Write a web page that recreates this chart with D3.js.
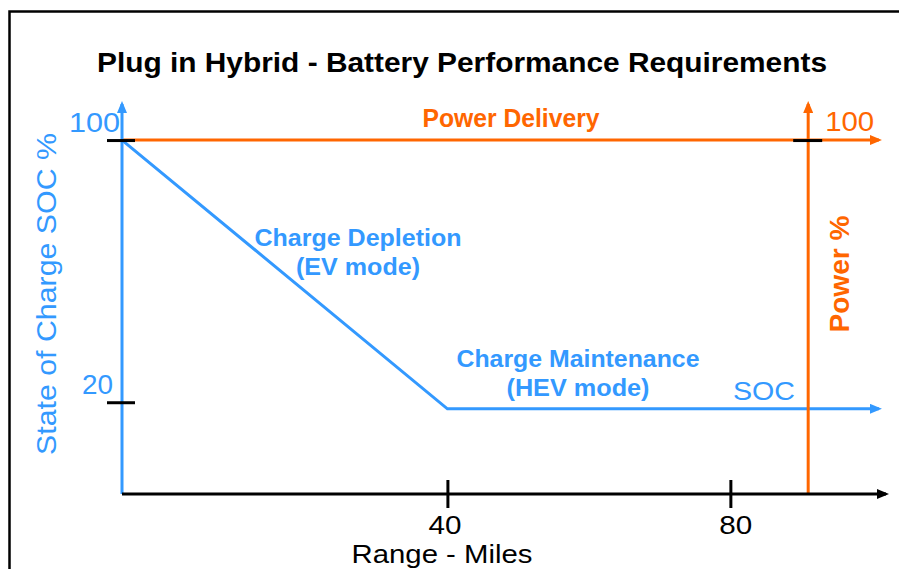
<!DOCTYPE html>
<html>
<head>
<meta charset="utf-8">
<script src="https://cdn.jsdelivr.net/npm/d3@7"></script>
<style>
  body { margin: 0; background: #fff; }
  text { font-family: 'Liberation Sans', Arial, sans-serif; }
</style>
</head>
<body>
<div id="chart"></div>
<script>
// chart values
const socTicks = [20, 100];
const powerTicks = [100];
const rangeTicks = [40, 80];
const socMiles = [-6, 40, 101];
const socValues = [100, 18, 18];
const powerMiles = [-6, 101];
const powerValues = [100, 100];
const axisMiles = [-6, 102];   // x axis start / end
const axisSoc = [-8, 111];     // y axis start / end
const powerAxisMiles = 91;

const blue = '#3399ff',
  orange = '#ff6600';

const width = 899,
  height = 569;

const svg = d3.select('#chart')
  .append('svg')
  .attr('width', width)
  .attr('height', height);

const x = d3.scaleLinear().domain([-6, 102]).range([122, 886]);
const y = d3.scaleLinear().domain([-8, 111]).range([494, 104]);

// arrow heads
const defs = svg.append('defs');
[['blue', blue], ['orange', orange], ['black', '#000']].forEach(function (c) {
  defs.append('marker')
    .attr('id', 'arrow-' + c[0])
    .attr('markerUnits', 'userSpaceOnUse')
    .attr('markerWidth', 12)
    .attr('markerHeight', 10)
    .attr('refX', 9)
    .attr('refY', 5)
    .attr('orient', 'auto')
    .append('path')
    .attr('d', 'M0,0L12,5L0,10Z')
    .attr('fill', c[1]);
});

// frame
svg.append('rect')
  .attr('x', 9.5)
  .attr('y', 11.5)
  .attr('width', 900)
  .attr('height', 570)
  .attr('fill', 'none')
  .attr('stroke', '#000')
  .attr('stroke-width', 2.5);

// title
svg.append('text')
  .attr('x', 462)
  .attr('y', 72)
  .attr('text-anchor', 'middle')
  .attr('font-size', 28)
  .attr('font-weight', 'bold')
  .attr('textLength', 730)
  .attr('lengthAdjust', 'spacingAndGlyphs')
  .text('Plug in Hybrid - Battery Performance Requirements');

const line = d3.line()
  .x(function (d) { return x(d[0]); })
  .y(function (d) { return y(d[1]); });

// power delivery line
svg.append('path')
  .datum(d3.zip(powerMiles, powerValues))
  .attr('d', line)
  .attr('fill', 'none')
  .attr('stroke', orange)
  .attr('stroke-width', 3)
  .attr('marker-end', 'url(#arrow-orange)');

// SOC line
svg.append('path')
  .datum(d3.zip(socMiles, socValues))
  .attr('d', line)
  .attr('fill', 'none')
  .attr('stroke', blue)
  .attr('stroke-width', 3)
  .attr('marker-end', 'url(#arrow-blue)');

// power axis
svg.append('path')
  .datum([[powerAxisMiles, axisSoc[0]], [powerAxisMiles, axisSoc[1]]])
  .attr('d', line)
  .attr('stroke', orange)
  .attr('stroke-width', 3)
  .attr('marker-end', 'url(#arrow-orange)');

// SOC axis
svg.append('path')
  .datum([[axisMiles[0], axisSoc[0]], [axisMiles[0], axisSoc[1]]])
  .attr('d', line)
  .attr('stroke', blue)
  .attr('stroke-width', 3)
  .attr('marker-end', 'url(#arrow-blue)');

// range axis
svg.append('path')
  .datum([[axisMiles[0], axisSoc[0]], [axisMiles[1], axisSoc[0]]])
  .attr('d', line)
  .attr('stroke', '#000')
  .attr('stroke-width', 3)
  .attr('marker-end', 'url(#arrow-black)');

// ticks
const socAxis = svg.append('g')
  .attr('transform', 'translate(' + x(axisMiles[0]) + ',0)')
  .call(d3.axisLeft(y).tickValues(socTicks).tickSize(15));
socAxis.select('.domain').remove();
socAxis.selectAll('line').attr('x1', 13).attr('x2', -15).attr('stroke', '#000').attr('stroke-width', 3);
socAxis.selectAll('text')
  .attr('x', function (d) { return d === 100 ? -2 : -9; })
  .attr('y', -9)
  .attr('dy', 0)
  .attr('fill', blue)
  .attr('font-size', 28)
  .attr('font-family', null)
  .attr('textLength', function (d) { return d === 100 ? 51 : 31; })
  .attr('lengthAdjust', 'spacingAndGlyphs');

const powerAxis = svg.append('g')
  .attr('transform', 'translate(' + x(powerAxisMiles) + ',0)')
  .call(d3.axisRight(y).tickValues(powerTicks).tickSize(14));
powerAxis.select('.domain').remove();
powerAxis.selectAll('line').attr('x1', -15).attr('x2', 14).attr('stroke', '#000').attr('stroke-width', 3);
powerAxis.selectAll('text')
  .attr('x', 17)
  .attr('y', -10)
  .attr('dy', 0)
  .attr('fill', orange)
  .attr('font-size', 28)
  .attr('font-family', null)
  .attr('textLength', 49)
  .attr('lengthAdjust', 'spacingAndGlyphs');

const rangeAxis = svg.append('g')
  .attr('transform', 'translate(0,' + y(axisSoc[0]) + ')')
  .call(d3.axisBottom(x).tickValues(rangeTicks).tickSize(14));
rangeAxis.select('.domain').remove();
rangeAxis.selectAll('line').attr('y1', -14).attr('y2', 14).attr('stroke', '#000').attr('stroke-width', 3);
rangeAxis.selectAll('text')
  .attr('x', function (d) { return d === 40 ? -3 : 5; })
  .attr('y', 40)
  .attr('dy', 0)
  .attr('fill', '#000')
  .attr('font-size', 26)
  .attr('font-family', null)
  .attr('textLength', 33)
  .attr('lengthAdjust', 'spacingAndGlyphs');

// labels
function label(txt, px, py, opts) {
  const t = svg.append('text')
    .attr('x', px)
    .attr('y', py)
    .attr('text-anchor', 'middle')
    .attr('font-size', opts.size)
    .attr('font-weight', opts.bold ? 'bold' : 'normal')
    .attr('fill', opts.color)
    .attr('textLength', opts.len)
    .attr('lengthAdjust', 'spacingAndGlyphs')
    .text(txt);
  if (opts.rotate) t.attr('transform', 'rotate(-90,' + px + ',' + py + ')');
  return t;
}

label('Power Delivery', 511, 127, { size: 25, bold: true, color: orange, len: 177 });
label('Charge Depletion', 358, 246, { size: 24, bold: true, color: blue, len: 207 });
label('(EV mode)', 358, 275, { size: 24, bold: true, color: blue, len: 124 });
label('Charge Maintenance', 578, 367, { size: 24, bold: true, color: blue, len: 243 });
label('(HEV mode)', 578, 396, { size: 24, bold: true, color: blue, len: 143 });
label('SOC', 764, 400, { size: 25, color: blue, len: 62 });
label('Range - Miles', 442, 563, { size: 26, color: '#000', len: 181 });
label('State of Charge SOC %', 56, 294, { size: 28, color: blue, len: 322, rotate: true });
label('Power %', 849, 274, { size: 28, bold: true, color: orange, len: 117, rotate: true });
</script>
</body>
</html>
